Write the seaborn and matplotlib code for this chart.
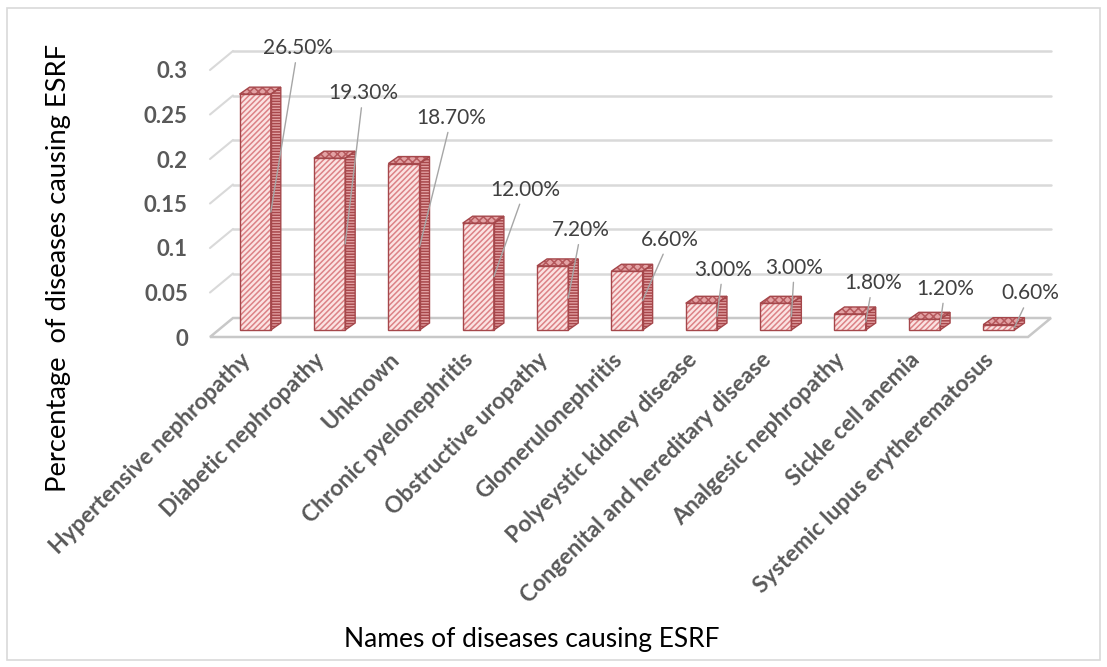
import numpy as np
import pandas as pd
import seaborn as sns
import matplotlib
matplotlib.use("Agg")
import matplotlib.pyplot as plt
from matplotlib.patches import Polygon, Rectangle
from matplotlib.transforms import ScaledTranslation

# ---------------- data ----------------
categories = [
    "Hypertensive nephropathy",
    "Diabetic nephropathy",
    "Unknown",
    "Chronic pyelonephritis",
    "Obstructive uropathy",
    "Glomerulonephritis",
    "Polyeystic kidney disease",
    "Congenital and hereditary disease",
    "Analgesic nephropathy",
    "Sickle cell anemia",
    "Systemic lupus erytherematosus",
]
values = [0.265, 0.193, 0.187, 0.12, 0.072, 0.066, 0.03, 0.03, 0.018, 0.012, 0.006]
value_labels = ["26.50%", "19.30%", "18.70%", "12.00%", "7.20%", "6.60%",
                "3.00%", "3.00%", "1.80%", "1.20%", "0.60%"]
y_ticks = [0, 0.05, 0.1, 0.15, 0.2, 0.25, 0.3]
y_tick_labels = ["0", "0.05", "0.1", "0.15", "0.2", "0.25", "0.3"]
x_title = "Names of diseases causing ESRF"
y_title = "Percentage  of diseases causing ESRF"

# ---------------- layout (pixels) ----------------
label_offsets = [(27, 164), (18, 151), (32, 129), (31, 87), (13, 68), (27, 61),
                 (6, 47), (3, 49), (7, 39), (5, 36), (16, 34)]
BAR_SHIFT = (8, 7)      # bar plane offset from front plane
BAR_DEPTH = (10, 7)     # bar side/top depth
WALL_DEPTH = (23, 19)   # depth of floor / back wall

sns.set_theme(style="white")
plt.rcParams["font.family"] = ["Lato", "DejaVu Sans"]
plt.rcParams["hatch.linewidth"] = 1.1

W, H, DPI = 1107, 667, 100
fig = plt.figure(figsize=(W / DPI, H / DPI), dpi=DPI)
fig.patch.set_facecolor("white")
# outer border
fig.add_artist(Rectangle((7 / W, 7 / H), 1093 / W, 652 / H, transform=fig.transFigure,
                         fill=False, edgecolor="#d9d9d9", lw=1.2))

ax_l, ax_r, ax_b, ax_t = 210, 1028, 337, 70
ax = fig.add_axes([ax_l / W, 1 - ax_b / H, (ax_r - ax_l) / W, (ax_b - ax_t) / H])
ax.set_facecolor("none")

df = pd.DataFrame({"cat": categories, "val": values})
sns.barplot(data=df, x="cat", y="val", ax=ax, width=0.42, color="#fbe3e2",
            saturation=1, edgecolor="#dc8286", linewidth=0, hatch="//////", zorder=3)
ax.set_xlim(-0.5, len(categories) - 0.5)
ax.set_ylim(0, 0.3)

ux = (ax_r - ax_l) / (len(categories))
uy = (ax_b - ax_t) / 0.3
bx, by = BAR_DEPTH[0] / ux, BAR_DEPTH[1] / uy
wx, wy = WALL_DEPTH[0] / ux, WALL_DEPTH[1] / uy
shift = ax.transData + ScaledTranslation(BAR_SHIFT[0] / DPI, BAR_SHIFT[1] / DPI, fig.dpi_scale_trans)

# back wall gridlines and left wall diagonals
x0, x1 = -0.5, len(categories) - 0.5
for t in y_ticks[1:]:
    ax.plot([x0, x0 + wx], [t, t + wy], color="#d9d9d9", lw=1.5, zorder=0.5, clip_on=False)
    ax.plot([x0 + wx, x1 + wx], [t + wy, t + wy], color="#d9d9d9", lw=1.8, zorder=0.5, clip_on=False)
floor = Polygon([(x0, 0), (x1, 0), (x1 + wx, wy), (x0 + wx, wy)], closed=True,
                facecolor="white", edgecolor="#c8c8c8", lw=1.8, zorder=1, clip_on=False)
ax.add_patch(floor)

bars = [p for p in ax.patches if isinstance(p, Rectangle)]
for p in bars:
    p.set_transform(shift)
    p.set_clip_on(False)
    px0, pw, ph = p.get_x(), p.get_width(), p.get_height()
    px1 = px0 + pw
    side = Polygon([(px1, 0), (px1 + bx, by), (px1 + bx, ph + by), (px1, ph)], closed=True,
                   facecolor="#e5a5a7", edgecolor="#a8474b", lw=0, hatch="------",
                   transform=shift, zorder=3, clip_on=False)
    top = Polygon([(px0, ph), (px1, ph), (px1 + bx, ph + by), (px0 + bx, ph + by)], closed=True,
                  facecolor="#e3a2a4", edgecolor="#b5585c", lw=0, hatch="xxxx",
                  transform=shift, zorder=3, clip_on=False)
    ax.add_patch(side)
    ax.add_patch(top)
    for poly in ([(px0, 0), (px1, 0), (px1, ph), (px0, ph)],
                 [(px1, 0), (px1 + bx, by), (px1 + bx, ph + by), (px1, ph)],
                 [(px0, ph), (px1, ph), (px1 + bx, ph + by), (px0 + bx, ph + by)]):
        ax.add_patch(Polygon(poly, closed=True, fill=False, edgecolor="#a5474b", lw=1.0,
                             transform=shift, zorder=4, clip_on=False))

# data labels with leader lines
for i, (p, lab, off) in enumerate(zip(bars, value_labels, label_offsets)):
    xe = p.get_x() + p.get_width()
    ye = p.get_height() / 2
    xd, yd = shift.transform((xe, ye))
    ax.annotate(lab, xy=(xd, yd), xycoords="figure pixels",
                xytext=off, textcoords="offset pixels", ha="center", va="center",
                fontsize=15, color="#404040", zorder=6, annotation_clip=False,
                arrowprops=dict(arrowstyle="-", color="#a6a6a6", lw=1.0, shrinkA=1, shrinkB=0))

# axes styling
for s in ax.spines.values():
    s.set_visible(False)
ax.set_yticks(y_ticks)
ax.set_yticklabels(y_tick_labels, fontsize=16, fontweight="bold", color="#595959")
ax.set_xticks(range(len(categories)))
ax.set_xticklabels(categories, rotation=45, ha="right", va="center", rotation_mode="anchor",
                   fontsize=16.5, fontweight="bold", color="#595959")
ax.tick_params(axis="y", length=0, pad=16)
ax.tick_params(axis="x", length=0, pad=14)
ax.set_xlabel("")
ax.set_ylabel("")
ax.grid(False)

fig.text(59 / W, 1 - 268 / H, y_title, rotation=90, ha="center", va="center",
         fontsize=19.7, color="#000000")
fig.text(532 / W, 1 - 640 / H, x_title, ha="center", va="center",
         fontsize=19, color="#000000")

fig.savefig("out.png", dpi=DPI, facecolor="white")
